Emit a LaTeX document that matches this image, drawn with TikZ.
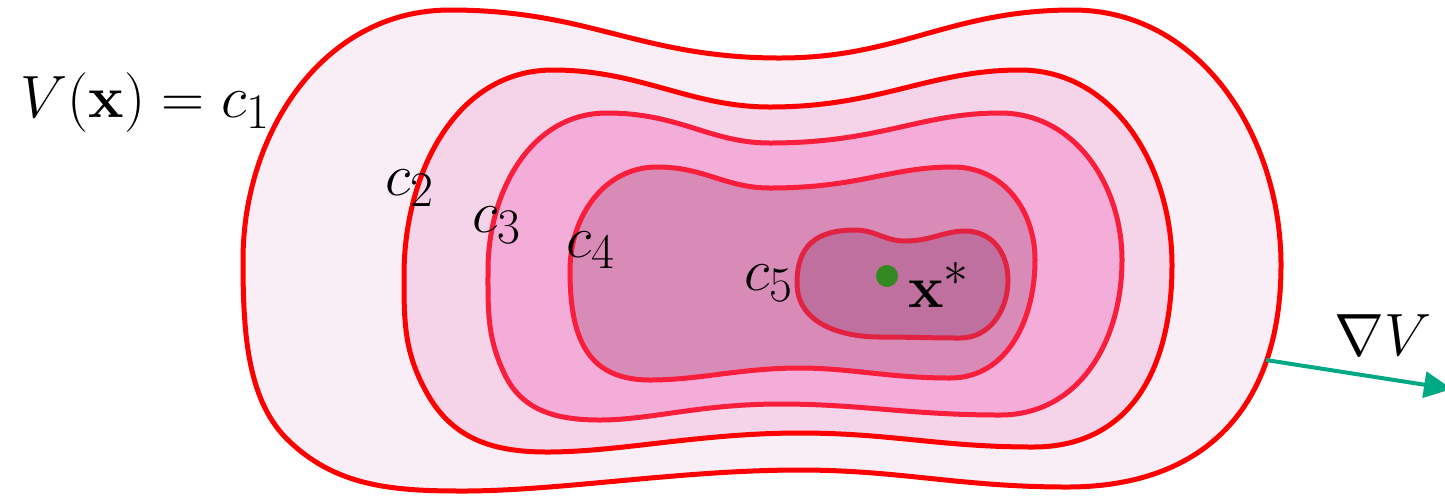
\documentclass[tikz,border=0pt]{standalone}
\usepackage{graphicx}
\usetikzlibrary{arrows.meta}
\definecolor{fillA}{RGB}{249,238,246}
\definecolor{fillB}{RGB}{245,211,232}
\definecolor{fillC}{RGB}{244,172,216}
\definecolor{fillD}{RGB}{217,139,184}
\definecolor{fillE}{RGB}{192,112,158}
\definecolor{strokeA}{RGB}{255,0,0}
\definecolor{strokeC}{RGB}{248,30,60}
\definecolor{strokeE}{RGB}{225,35,65}
\definecolor{optgreen}{RGB}{51,136,34}
\definecolor{gradteal}{RGB}{0,168,132}
\newcommand{\bigmath}[1]{\scalebox{1.2}{\Huge$#1$}}
\tikzset{
  level/.style={line width=2.5pt},
  lbl/.style={inner sep=0pt, anchor=base west}
}
\begin{document}
\begin{tikzpicture}[x=0.5pt,y=-0.5pt]
\useasboundingbox (0,0) rectangle (1445,495);
% c1
\draw[level, draw=strokeA, fill=fillA]
 (243,260) .. controls (243,133) and (323,10) .. (450,10)
 .. controls (590,10) and (640,58) .. (780,58)
 .. controls (900,58) and (950,10) .. (1073,10)
 .. controls (1201,10) and (1281,137) .. (1281,265)
 .. controls (1281,405) and (1207,487) .. (1067,487)
 .. controls (960,487) and (900,470) .. (800,470)
 .. controls (680,470) and (560,491) .. (463,491)
 .. controls (393,491) and (334,487) .. (285,437)
 .. controls (247,397) and (243,331) .. (243,260) -- cycle;
% c2
\draw[level, draw=strokeA, fill=fillB]
 (404,275) .. controls (404,176) and (454,70) .. (553,70)
 .. controls (640,70) and (690,107) .. (770,107)
 .. controls (880,107) and (930,70) .. (1020,70)
 .. controls (1116,70) and (1172,169) .. (1172,265)
 .. controls (1172,365) and (1133,447) .. (1033,447)
 .. controls (940,447) and (890,433) .. (800,433)
 .. controls (700,433) and (620,452) .. (547,452)
 .. controls (495,452) and (454,440) .. (428,395)
 .. controls (404,353) and (404,323) .. (404,275) -- cycle;
% c3
\draw[level, draw=strokeC, fill=fillC]
 (488,270) .. controls (488,193) and (530,113) .. (607,113)
 .. controls (680,113) and (710,143) .. (770,143)
 .. controls (880,143) and (920,113) .. (1000,113)
 .. controls (1075,113) and (1122,185) .. (1122,260)
 .. controls (1122,340) and (1080,415) .. (1000,415)
 .. controls (910,415) and (860,404) .. (780,404)
 .. controls (700,404) and (650,420) .. (600,420)
 .. controls (559,420) and (523,412) .. (505,375)
 .. controls (487,338) and (488,311) .. (488,270) -- cycle;
% c4
\draw[level, draw=strokeC, fill=fillD]
 (570,270) .. controls (570,217) and (604,167) .. (657,167)
 .. controls (705,167) and (725,188) .. (770,188)
 .. controls (860,188) and (890,167) .. (953,167)
 .. controls (1003,167) and (1035,210) .. (1035,260)
 .. controls (1035,318) and (1008,378) .. (950,378)
 .. controls (890,378) and (850,368) .. (800,368)
 .. controls (740,368) and (700,380) .. (650,380)
 .. controls (585,380) and (570,335) .. (570,270) -- cycle;
% c5
\draw[level, draw=strokeE, fill=fillE]
 (797,283) .. controls (797,245) and (817,230) .. (855,230)
 .. controls (875,230) and (885,241) .. (905,241)
 .. controls (930,241) and (945,231) .. (965,231)
 .. controls (992,231) and (1008,253) .. (1008,280)
 .. controls (1008,310) and (990,338) .. (960,338)
 .. controls (930,338) and (910,337) .. (880,337)
 .. controls (840,337) and (797,323) .. (797,283) -- cycle;
% optimum
\node[circle, fill=optgreen, inner sep=0pt, minimum size=11pt] (opt) at (887,276) {};
\node[lbl] (xstar) at (908,307) {\bigmath{\mathbf{x}^*}};
% labels
\node[lbl] (lc1) at (20,117) {\bigmath{V(\mathbf{x})=c_1}};
\node[lbl] (lc2) at (385,195) {\bigmath{c_2}};
\node[lbl] (lc3) at (472,232) {\bigmath{c_3}};
\node[lbl] (lc4) at (566,257) {\bigmath{c_4}};
\node[lbl] (lc5) at (744,290) {\bigmath{c_5}};
\node[lbl] (lgrad) at (1334,355) {\bigmath{\nabla V}};
% gradient arrow
\coordinate (gstart) at (1266,360);
\coordinate (gend) at (1452,389);
\draw[gradteal, line width=2pt, -{Triangle[length=14pt,width=13pt]}] (gstart) -- (gend);
\end{tikzpicture}
\end{document}
